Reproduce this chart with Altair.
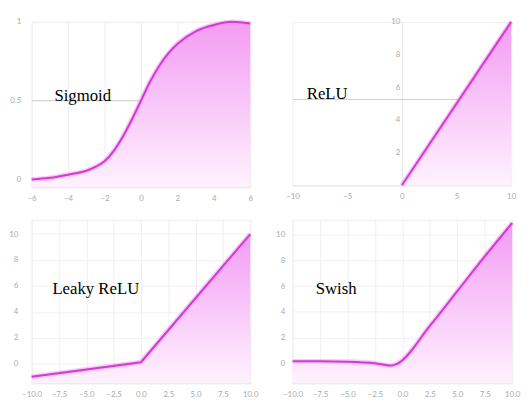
import altair as alt
import pandas as pd

# ---- data ----
sig_x = [-6, -5, -4, -3, -2.5, -2, -1.5, -1, -0.5, 0, 0.5, 1, 1.5, 2, 3, 4, 5, 6]
sig_y = [0.0, 0.01, 0.03, 0.055, 0.08, 0.115, 0.18, 0.27, 0.38, 0.5, 0.62, 0.72, 0.8, 0.86, 0.94, 0.98, 1.0, 0.99]

relu_x = [0, 10]
relu_y = [0, 10]

leaky_x = [-10, 0, 10]
leaky_y = [-1.0, 0.12, 10.0]

swish_x = [-10, -7.5, -5, -2.5, -1.0, -0.4, 2.5, 5, 7.5, 10]
swish_y = [0.15, 0.15, 0.12, 0.0, -0.18, 0.0, 2.9, 5.6, 8.3, 10.9]

sig_xticks = [-6, -4, -2, 0, 2, 4, 6]
sig_yticks = [0, 0.5, 1]
relu_xticks = [-10, -5, 0, 5, 10]
relu_yticks = [2, 4, 6, 8, 10]
bot_xticks = [-10, -7.5, -5, -2.5, 0, 2.5, 5, 7.5, 10]
bot_yticks = [0, 2, 4, 6, 8, 10]

LINE = "#d23ad2"
GLOW = "#ee8fee"
LABEL_FONT = "Lato"
GRAD = alt.Gradient(
    gradient="linear",
    stops=[alt.GradientStop(color="#f39cf3", offset=0),
           alt.GradientStop(color="#fef2fe", offset=1)],
    x1=1, x2=1, y1=0, y2=1,
)


def panel(xs, ys, name, xdom, ydom, xticks, yticks, xfmt, yfmt, w, h,
          tx, ty, interp, ypad, rule_y=None, grid=True, yaxis_off=None):
    df = pd.DataFrame({"x": xs, "y": ys})
    one = pd.DataFrame({"k": [0]})
    xaxis = alt.Axis(values=xticks, format=xfmt, grid=grid, gridColor="#f0f0f0",
                     domainColor="#e6e6e6", ticks=False, labelPadding=7,
                     labelOverlap=False, labelFlush=False,
                     labelFont=LABEL_FONT, labelFontSize=8, labelColor="#aaaaaa",
                     title=None)
    yargs = dict(values=yticks, format=yfmt, grid=grid, gridColor="#f0f0f0",
                 domain=False, ticks=False, labelPadding=ypad, labelOverlap=False,
                 labelFlush=False,
                 labelFont=LABEL_FONT, labelFontSize=8, labelColor="#aaaaaa",
                 title=None)
    if yaxis_off is not None:
        yargs.update(offset=yaxis_off, domain=True, domainColor="#e6e6e6")
    yaxis = alt.Axis(**yargs)
    xs_ = alt.Scale(domain=xdom, nice=False, zero=False)
    ys_ = alt.Scale(domain=ydom, nice=False, zero=False)
    base = alt.Chart(df).encode(
        x=alt.X("x:Q", scale=xs_, axis=xaxis),
        y=alt.Y("y:Q", scale=ys_, axis=yaxis),
    )
    area = base.mark_area(color=GRAD, interpolate=interp).encode(
        y2=alt.datum(ydom[0]),
    )
    glow = base.mark_line(color=GLOW, strokeWidth=5, opacity=0.45,
                          interpolate=interp)
    line = base.mark_line(color=LINE, strokeWidth=2, interpolate=interp)
    layers = [area, glow, line]
    if rule_y is not None:
        layers.insert(0, alt.Chart(one).mark_rule(color="#cfcfcf", strokeWidth=1).encode(
            y=alt.YDatum(rule_y, scale=ys_, axis=yaxis)))
    txt = alt.Chart(one).mark_text(text=name, font="Liberation Serif", fontSize=17,
                                   color="#000000", align="left",
                                   baseline="alphabetic").encode(
        x=alt.XDatum(tx, scale=xs_, axis=xaxis), y=alt.YDatum(ty, scale=ys_, axis=yaxis))
    layers.append(txt)
    return alt.layer(*layers).properties(width=w, height=h)


p1 = panel(sig_x, sig_y, "Sigmoid", [-6, 6], [-0.05, 1.0], sig_xticks, sig_yticks,
           "d", "", 222, 168, -4.75, 0.5, "monotone", 11, rule_y=0.5)
p2 = panel(relu_x, relu_y, "ReLU", [-10, 10], [0, 10], relu_xticks, relu_yticks,
           "d", "d", 222, 166, -8.7, 5.25, "linear", 2, rule_y=5.25, grid=False,
           yaxis_off=-111)
p3 = panel(leaky_x, leaky_y, "Leaky ReLU", [-10, 10], [-1.5, 11.1], bot_xticks, bot_yticks,
           ".1f", "d", 222, 166, -8.1, 5.4, "linear", 14)
p4 = panel(swish_x, swish_y, "Swish", [-10, 10], [-1.55, 11.15], bot_xticks, bot_yticks,
           ".1f", "d", 223, 166, -7.9, 5.4, "monotone", 8)

chart = alt.vconcat(
    alt.hconcat(p1, p2, spacing=24),
    alt.hconcat(p3, p4, spacing=14),
    spacing=9,
).properties(
    padding={"left": 0, "top": 0, "right": 0, "bottom": 0}
).configure_view(stroke="#efefef")

chart.save("out.html", embed_options={"renderer": "svg", "actions": False})
